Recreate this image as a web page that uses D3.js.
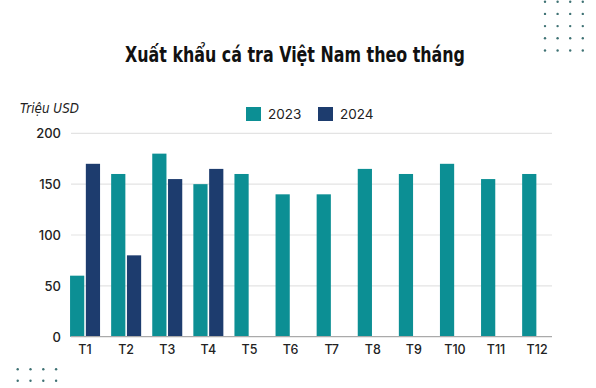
<!DOCTYPE html>
<html>
  <head>
    <meta charset="utf-8">
    <title>Xuất khẩu cá tra</title>
    <script src="https://d3js.org/d3.v7.min.js"></script>
    <style>
      body { margin: 0; background: #fff; }
      svg { display: block; }
    </style>
  </head>
  <body>
    <svg id="chart" width="596" height="388"></svg>
    <script>
      // data
      months = ["T1", "T2", "T3", "T4", "T5", "T6", "T7", "T8", "T9", "T10", "T11", "T12"];
      years = ["2023", "2024"];
      values2023 = [60, 160, 180, 150, 160, 140, 140, 165, 160, 170, 155, 160];
      values2024 = [170, 80, 155, 165, null, null, null, null, null, null, null, null];
      yTicks = [0, 50, 100, 150, 200];
      colors = ["#0c8f94", "#1d3c6e"];

      svg = d3.select("#chart");

      // scales
      x = d3.scaleBand().domain(months).range([64.5, 557.7]);
      sub = d3.scaleBand().domain(years).range([-15, 15]).paddingInner(0.1);
      y = d3.scaleLinear().domain([0, 200]).range([336.7, 133.3]);

      // gridlines
      svg.append("g")
        .selectAll("line")
          .data(yTicks.slice(1))
        .enter().append("line")
          .attr("x1", 71).attr("x2", 552)
          .attr("y1", function(d) { return y(d); })
          .attr("y2", function(d) { return y(d); })
          .style("stroke", "#e3e3e3")
          .style("stroke-width", 1.2);

      // y labels
      svg.append("g")
        .selectAll("text")
          .data(yTicks)
        .enter().append("text")
          .attr("x", 61)
          .attr("y", function(d) { return y(d) + 5; })
          .attr("text-anchor", "end")
          .style("font-family", "Inter, 'Noto Sans', sans-serif")
          .style("font-size", "13px")
          .style("font-weight", 500)
          .style("fill", "#222")
          .text(function(d) { return d; });

      // bars
      series = [values2023, values2024];
      groups = svg.append("g")
        .selectAll("g")
          .data(months)
        .enter().append("g")
          .attr("transform", function(d) { return "translate(" + (x(d) + x.bandwidth() / 2) + ",0)"; });
      groups.selectAll("rect")
          .data(function(m, i) {
            return years.map(function(yr, j) { return { year: yr, value: series[j][i], k: j }; })
              .filter(function(d) { return d.value != null; });
          })
        .enter().append("rect")
          .attr("x", function(d) { return sub(d.year); })
          .attr("width", sub.bandwidth())
          .attr("y", function(d) { return y(d.value); })
          .attr("height", function(d) { return y(0) - y(d.value); })
          .style("fill", function(d) { return colors[d.k]; });

      // baseline
      svg.append("line")
        .attr("x1", 71).attr("x2", 552)
        .attr("y1", y(0)).attr("y2", y(0))
        .style("stroke", "#aaa")
        .style("stroke-width", 1.2);

      // x labels
      svg.append("g")
        .selectAll("text")
          .data(months)
        .enter().append("text")
          .attr("x", function(d) { return x(d) + x.bandwidth() / 2; })
          .attr("y", 353.5)
          .attr("text-anchor", "middle")
          .style("font-family", "Inter, 'Noto Sans', sans-serif")
          .style("font-size", "12.5px")
          .style("font-weight", 500)
          .style("fill", "#222")
          .text(function(d) { return d; });

      // title
      svg.append("text")
        .attr("x", 295).attr("y", 62)
        .attr("text-anchor", "middle")
        .attr("textLength", 340)
        .attr("lengthAdjust", "spacingAndGlyphs")
        .style("font-family", "'DejaVu Sans Condensed', 'DejaVu Sans', sans-serif")
        .style("font-stretch", "condensed")
        .style("font-weight", "bold")
        .style("font-size", "21px")
        .style("fill", "#111")
        .text("Xuất khẩu cá tra Việt Nam theo tháng");

      // unit
      svg.append("text")
        .attr("x", 20).attr("y", 113)
        .attr("textLength", 59)
        .attr("lengthAdjust", "spacingAndGlyphs")
        .style("font-family", "'DejaVu Sans Condensed', 'DejaVu Sans', sans-serif")
        .style("font-stretch", "condensed")
        .style("font-style", "italic")
        .style("font-size", "14px")
        .style("fill", "#222")
        .text("Triệu USD");

      // legend
      legendX = [246, 318];
      legend = svg.append("g")
        .selectAll("g")
          .data(years)
        .enter().append("g")
          .attr("transform", function(d, i) { return "translate(" + legendX[i] + ",107)"; });
      legend.append("rect")
        .attr("width", 15).attr("height", 14)
        .style("fill", function(d, i) { return colors[i]; });
      legend.append("text")
        .attr("x", 22).attr("y", 12)
        .style("font-family", "Inter, 'Noto Sans', sans-serif")
        .style("font-size", "13.5px")
        .style("fill", "#222")
        .text(function(d) { return d; });

      // decorative dots
      function dots(x0, y0, cols, rows, dx, dy) {
        svg.append("g")
          .selectAll("circle")
            .data(d3.cross(d3.range(cols), d3.range(rows)))
          .enter().append("circle")
            .attr("cx", function(d) { return x0 + d[0] * dx; })
            .attr("cy", function(d) { return y0 + d[1] * dy; })
            .attr("r", 1.2)
            .style("fill", "#3f7274");
      }
      dots(545, 1.7, 4, 5, 12.6, 12.2);
      dots(17.7, 369.3, 4, 2, 12.8, 11.4);
    </script>
  </body>
</html>
